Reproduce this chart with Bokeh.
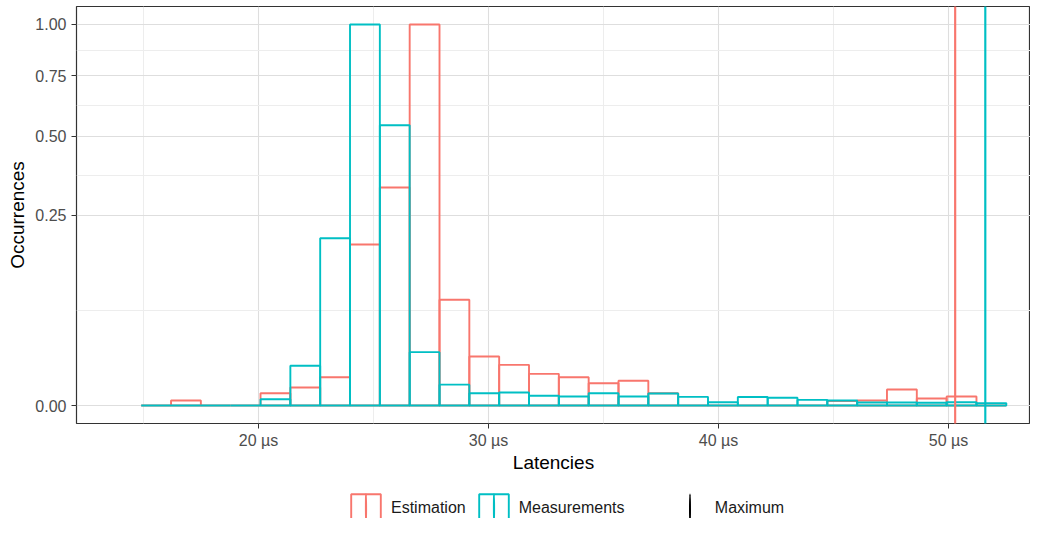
import numpy as np
from bokeh.plotting import figure
from bokeh.layouts import column
from bokeh.models import Range1d, FixedTicker, Legend, LegendItem
from bokeh.embed import file_html
from bokeh.resources import INLINE

# ---- data (normalised occurrences, max = 1) ----
bin_start = 14.90      # µs, left edge of first bin
bin_width = 1.297      # µs
estimation = [0, 0.00017, 0, 0, 0.00104, 0.00223, 0.00552, 0.1786, 0.3274, 1.0,
              0.0770, 0.0165, 0.0114, 0.0069, 0.0055, 0.0034, 0.0042, 0.00104, 0, 0,
              0, 0, 0, 0.00013, 0.00017, 0.00176, 0.00034, 0.00056, 0]
measurements = [0, 0, 0, 0, 0.00027, 0.0109, 0.1928, 1.0, 0.5412, 0.0196,
                0.0030, 0.00104, 0.00116, 0.00065, 0.00056, 0.00104, 0.00056, 0.00100, 0.00052, 0.000075,
                0.00050, 0.00041, 0.00022, 0.00017, 0.00006, 0.00006, 0.00005, 0.000075, 0.00004]
maxima = [50.29, 51.60]   # Estimation, Measurements

series_names = ["Estimation", "Measurements"]
series_colors = ["#F8766D", "#00BFC4"]
max_label = "Maximum"

x_ticks = [20, 30, 40, 50]
x_tick_labels = ["20 µs", "30 µs", "40 µs", "50 µs"]
x_minor = [15, 25, 35, 45]
y_ticks = [0.0, 0.25, 0.5, 0.75, 1.0]
y_tick_labels = ["0.00", "0.25", "0.50", "0.75", "1.00"]

FONT = "Liberation Sans"

# sqrt scale for y
sy_major = [float(np.sqrt(v)) for v in y_ticks]
sy_minor = [(a + b) / 2 for a, b in zip(sy_major[:-1], sy_major[1:])]

n = len(estimation)
edges = bin_start + bin_width * np.arange(n + 1)
left, right = edges[:-1], edges[1:]

p = figure(width=1030, height=486,
           x_range=Range1d(12.087, 53.565), y_range=Range1d(-0.0472, 1.0472),
           output_backend="svg", toolbar_location=None,
           min_border_left=76, min_border_right=0, min_border_top=6, min_border_bottom=63)
p.background_fill_color = "white"
p.border_fill_color = "white"
p.outline_line_color = "#333333"
p.outline_line_width = 1.2

for vals, col in zip([estimation, measurements], series_colors):
    p.quad(left=left, right=right, bottom=0, top=np.sqrt(np.array(vals, dtype=float)),
           fill_color=None, line_color=col, line_width=1.9)

# vertical "Maximum" lines: very thin, very tall ellipses spanning the frame
y_mid = 0.5
for xm, col in zip(maxima, series_colors):
    p.ellipse(x=[xm], y=[y_mid], width=0.4, height=4000,
              width_units="screen", height_units="screen",
              fill_color=None, line_color=col, line_width=1.8)

# axes
xt = FixedTicker(ticks=x_ticks, minor_ticks=x_minor)
yt = FixedTicker(ticks=sy_major, minor_ticks=sy_minor)
p.xaxis.ticker = xt
p.yaxis.ticker = yt
p.xgrid.ticker = xt
p.ygrid.ticker = yt
p.xaxis.major_label_overrides = {t: l for t, l in zip(x_ticks, x_tick_labels)}
p.yaxis.major_label_overrides = {t: l for t, l in zip(sy_major, y_tick_labels)}

for ax in (p.xaxis, p.yaxis):
    ax.axis_line_color = None
    ax.major_tick_line_color = "#333333"
    ax.major_tick_out = 5
    ax.major_tick_in = 0
    ax.minor_tick_out = 0
    ax.minor_tick_in = 0
    ax.major_label_text_font = FONT
    ax.major_label_text_font_size = "16px"
    ax.major_label_text_color = "#4D4D4D"
    ax.axis_label_text_font = FONT
    ax.axis_label_text_font_size = "19px"
    ax.axis_label_text_font_style = "normal"
    ax.axis_label_text_color = "black"

p.xaxis.major_label_standoff = 3
p.yaxis.major_label_standoff = 5
p.xaxis.axis_label = "Latencies"
p.yaxis.axis_label = "Occurrences"
p.xaxis.axis_label_standoff = 0
p.yaxis.axis_label_standoff = 4

for g in (p.xgrid, p.ygrid):
    g.grid_line_color = "#DEDEDE"
    g.grid_line_width = 1.1
    g.minor_grid_line_color = "#EDEDED"
    g.minor_grid_line_width = 1

# ---- legend strip (separate figure below the plot) ----
pl = figure(width=1030, height=32, x_range=Range1d(0, 1), y_range=Range1d(0, 1),
            x_axis_type=None, y_axis_type=None, output_backend="svg", toolbar_location=None,
            min_border=0)
pl.outline_line_color = None
pl.background_fill_color = "white"
pl.border_fill_color = "white"

nan = [float("nan")]
key_items = []
for nm, col in zip(series_names, series_colors):
    kq = pl.quad(left=nan, right=nan, bottom=nan, top=nan, fill_color=None,
                 line_color=col, line_width=1.9)
    kl = pl.ellipse(x=nan, y=nan, width=0.4, height=30, width_units="screen",
                    height_units="screen", fill_color=None, line_color=col, line_width=1.8)
    key_items.append(LegendItem(label=nm, renderers=[kq, kl]))
kmax = pl.ellipse(x=nan, y=nan, width=0.4, height=30, width_units="screen",
                  height_units="screen", fill_color=None, line_color="black", line_width=1.6)


def style(lg):
    lg.orientation = "horizontal"
    lg.background_fill_alpha = 0
    lg.border_line_color = None
    lg.padding = 0
    lg.margin = 0
    lg.glyph_width = 37
    lg.glyph_height = 37
    lg.label_standoff = 7
    lg.spacing = 9
    lg.label_text_font = FONT
    lg.label_text_font_size = "16px"
    lg.label_text_color = "#1A1A1A"


leg_a = Legend(items=key_items, location=(271, -8.6))
style(leg_a)
leg_b = Legend(items=[LegendItem(label=max_label, renderers=[kmax])], location=(594.8, -8.6))
style(leg_b)
pl.add_layout(leg_a, "center")
pl.add_layout(leg_b, "center")

layout = column(p, pl, spacing=0)
open("out.html", "w").write(file_html(layout, INLINE))
